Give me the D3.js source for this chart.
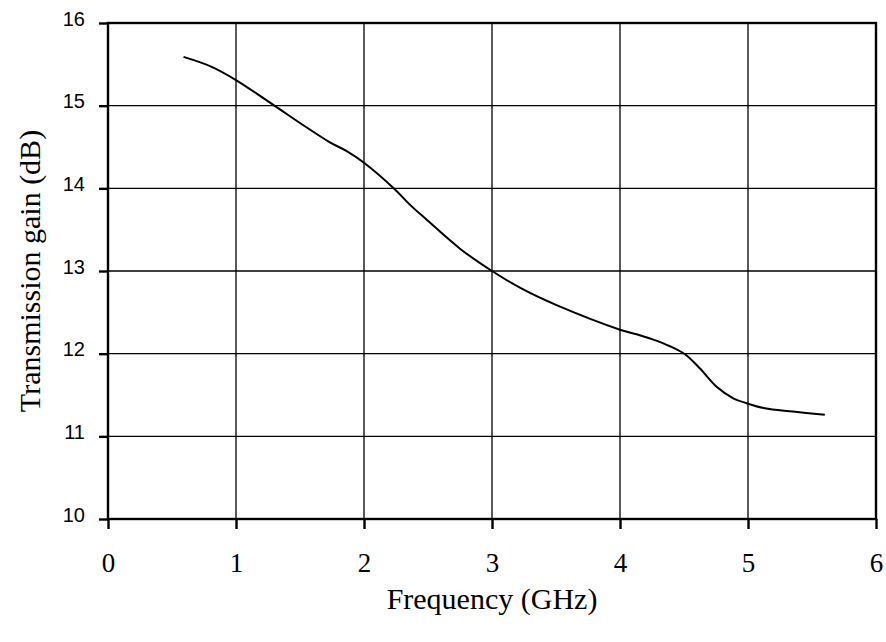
<!DOCTYPE html>
<html>
<head>
<meta charset="utf-8">
<script src="https://cdn.jsdelivr.net/npm/d3@7"></script>
<style>
  html, body { margin: 0; padding: 0; background: #fff; }
  svg { display: block; }
</style>
</head>
<body>
<svg id="chart" width="886" height="642"></svg>
<script>
// Transmission gain measured across frequency
const freqGHz = [0.59, 0.81, 1.0, 1.30, 1.50, 1.73, 1.865, 2.0, 2.24, 2.36, 2.49, 2.75, 3.0, 3.24, 3.50, 4.0, 4.16, 4.26, 4.39, 4.51, 4.625, 4.755, 4.885, 4.99, 5.13, 5.35, 5.60];
const gainDb  = [15.59, 15.47, 15.31, 15.0, 14.79, 14.56, 14.45, 14.31, 13.99, 13.80, 13.62, 13.27, 13.0, 12.78, 12.59, 12.29, 12.22, 12.17, 12.09, 11.99, 11.82, 11.60, 11.46, 11.40, 11.34, 11.30, 11.26];
const xTicks = [0, 1, 2, 3, 4, 5, 6];
const yTicks = [10, 11, 12, 13, 14, 15, 16];

const svg = d3.select("#chart");
const plotL = 108, plotR = 876, plotT = 23, plotB = 519;
const serif = "'Liberation Serif', 'Times New Roman', serif";

const x = d3.scaleLinear().domain([0, 6]).range([plotL, plotR]);
const y = d3.scaleLinear().domain([10, 16]).range([plotB, plotT]);

// grid
const grid = svg.append("g");
grid.selectAll("line.v").data(xTicks.slice(1, -1)).join("line")
  .attr("x1", d => x(d)).attr("x2", d => x(d))
  .attr("y1", plotT).attr("y2", plotB)
  .attr("stroke", "#000").attr("stroke-width", 1.3);
grid.selectAll("line.h").data(yTicks.slice(1, -1)).join("line")
  .attr("x1", plotL).attr("x2", plotR)
  .attr("y1", d => y(d)).attr("y2", d => y(d))
  .attr("stroke", "#000").attr("stroke-width", 1.3);

// frame
svg.append("rect")
  .attr("x", plotL).attr("y", plotT)
  .attr("width", plotR - plotL).attr("height", plotB - plotT)
  .attr("fill", "none").attr("stroke", "#000").attr("stroke-width", 2.4);

// x axis ticks + labels
const xAxis = d3.axisBottom(x).tickValues(xTicks).tickSize(10).tickPadding(24).tickFormat(d3.format("d"));
const gx = svg.append("g").attr("transform", `translate(0,${plotB})`).call(xAxis);
gx.select(".domain").remove();
gx.selectAll(".tick line").attr("stroke", "#000").attr("stroke-width", 2.4);
gx.selectAll(".tick text")
  .attr("fill", "#000")
  .style("font-family", serif)
  .style("font-size", "27px");

// y axis ticks + labels
const yAxis = d3.axisLeft(y).tickValues(yTicks).tickSize(9).tickPadding(14).tickFormat(d3.format("d"));
const gy = svg.append("g").attr("transform", `translate(${plotL},0)`).call(yAxis);
gy.select(".domain").remove();
gy.selectAll(".tick line").attr("stroke", "#000").attr("stroke-width", 2.4);
gy.selectAll(".tick text")
  .attr("fill", "#000")
  .attr("dy", "0.1em")
  .style("font-family", "'Liberation Sans', Arial, sans-serif")
  .style("font-size", "20px");

// curve
const line = d3.line().x((d, i) => x(freqGHz[i])).y(d => y(d)).curve(d3.curveCatmullRom.alpha(0.5));
svg.append("path")
  .datum(gainDb)
  .attr("d", line)
  .attr("fill", "none")
  .attr("stroke", "#000")
  .attr("stroke-width", 2);

// axis titles
svg.append("text")
  .attr("x", 492).attr("y", 609)
  .attr("text-anchor", "middle")
  .style("font-family", serif)
  .style("font-size", "30px")
  .text("Frequency (GHz)");

svg.append("text")
  .attr("transform", "translate(40,271) rotate(-90)")
  .attr("text-anchor", "middle")
  .style("font-family", serif)
  .style("font-size", "30px")
  .text("Transmission gain (dB)");
</script>
</body>
</html>
